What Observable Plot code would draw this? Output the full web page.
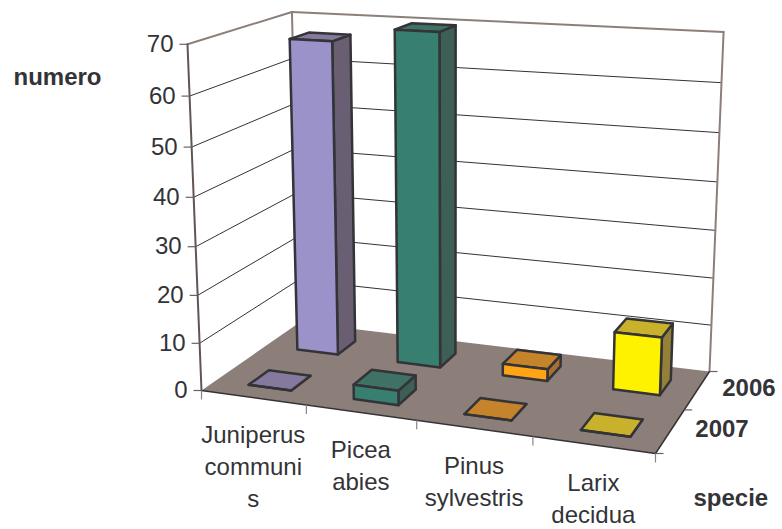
<!DOCTYPE html>
<html><head><meta charset="utf-8">
<style>html,body{margin:0;padding:0;background:#fff}svg{display:block}</style>
<script src="https://cdn.jsdelivr.net/npm/d3@7"></script>
<script src="https://cdn.jsdelivr.net/npm/@observablehq/plot@0.6"></script>
</head><body><div id="chart"></div>
<script>
const species = ["Juniperus\ncommuni\ns", "Picea\nabies", "Pinus\nsylvestris", "Larix\ndecidua"];
const years = ["2007", "2006"];           // front row first
const values2007 = [0, 3, 0, 0];
const values2006 = [67, 70, 2.5, 12];
const valueTicks = [0, 10, 20, 30, 40, 50, 60, 70];
const frontColors = ["#9a92c8", "#37806f", "#ffa515", "#fff200"];
const topColors = ["#85799e", "#3f7264", "#c5832b", "#c9b12b"];
const sideColors = ["#6a5f72", "#3d5f55", "#a86e32", "#95803a"];
const floorColor = "#8c7f7a", wallColor = "#8c7f7a", inkColor = "#333338";

// camera of the 3-D box: floor corners, vanishing point of the verticals, height strength
const floorCorners = [[201,390],[655,453],[709,371],[299,322]];  // (u,v)=(0,0),(1,0),(1,1),(0,1)
const verticalVanish = [451.5, 6576], heightGain = -0.053;
const maxValue = 70, nCat = species.length, nRow = years.length;

function homography(q) {
  const [[x0,y0],[x1,y1],[x2,y2],[x3,y3]] = q;
  const dx1=x1-x2, dx2=x3-x2, dx3=x0-x1+x2-x3, dy1=y1-y2, dy2=y3-y2, dy3=y0-y1+y2-y3;
  const den=dx1*dy2-dx2*dy1, g=(dx3*dy2-dx2*dy3)/den, h=(dx1*dy3-dx3*dy1)/den;
  return {a:x1-x0+g*x1, b:x3-x0+h*x3, d:y1-y0+g*y1, e:y3-y0+h*y3, g, h, x0, y0};
}
const H = homography(floorCorners);
function project(cat, row, value) {
  const u=cat/nCat, v=row/nRow, t=value/maxValue*heightGain;
  const w=H.g*u+H.h*v+1+t;
  return {x:(H.a*u+H.b*v+H.x0+t*verticalVanish[0])/w, y:(H.d*u+H.e*v+H.y0+t*verticalVanish[1])/w};
}
const poly = pts => [...pts, pts[0]].map(p=>project(...p));
const segMark = (a,b,o) => Plot.line([project(...a),project(...b)],{x:"x",y:"y",...o});
const face = (pts,o) => Plot.line(poly(pts),{x:"x",y:"y",...o});

const marks = [];
// walls + grid
const wallLine = {stroke:wallColor, strokeWidth:2};
valueTicks.forEach(v=>{
  if (v>0 && v<maxValue) {
    marks.push(segMark([0,0,v],[0,nRow,v],{stroke:inkColor,strokeWidth:1}));
    marks.push(segMark([0,nRow,v],[nCat,nRow,v],{stroke:inkColor,strokeWidth:1}));
  }
});
marks.push(segMark([0,0,maxValue],[0,nRow,maxValue],wallLine));
marks.push(segMark([0,nRow,maxValue],[nCat,nRow,maxValue],wallLine));
marks.push(segMark([0,nRow,0],[0,nRow,maxValue],wallLine));
marks.push(segMark([nCat,nRow,0],[nCat,nRow,maxValue],wallLine));
marks.push(segMark([0,0,0],[0,0,maxValue],{stroke:"#5f5653",strokeWidth:2}));
// floor
marks.push(face([[0,0,0],[nCat,0,0],[nCat,nRow,0],[0,nRow,0]],{fill:floorColor,stroke:"none"}));
marks.push(segMark([0,0,0],[nCat,0,0],{stroke:inkColor,strokeWidth:1.5}));
marks.push(segMark([nCat,0,0],[nCat,nRow,0],{stroke:inkColor,strokeWidth:1.5}));
// ticks
const hTick = (pts,dx1,dx2)=>marks.push(Plot.link(pts,{x1:d=>d.x+dx1,x2:d=>d.x+dx2,y1:"y",y2:"y",stroke:"#6b625f",strokeWidth:1.2}));
const vTick = (pts,len)=>marks.push(Plot.link(pts,{x1:"x",x2:"x",y1:"y",y2:d=>d.y+len,stroke:"#8c8482",strokeWidth:1.2}));
hTick(valueTicks.map(v=>project(0,0,v)),-8,0);
hTick(d3.range(0,nRow+1).map(r=>project(nCat,r,0)),0,8);
vTick(d3.range(0,nCat+1).map(c=>project(c,0,0)),9);

// bars, back row first
const inkBar = {stroke:inkColor,strokeWidth:2.5,strokeLinejoin:"round"};
const barU=[0.32,0.73], barV=[0.27,0.67];
function bar(c,r,val){
  const u0=c+barU[0],u1=c+barU[1],v0=r+barV[0],v1=r+barV[1];
  marks.push(face([[u1,v0,0],[u1,v1,0],[u1,v1,val],[u1,v0,val]],{fill:sideColors[c],...inkBar}));
  marks.push(face([[u0,v0,val],[u1,v0,val],[u1,v1,val],[u0,v1,val]],{fill:topColors[c],...inkBar}));
  marks.push(face([[u0,v0,0],[u1,v0,0],[u1,v0,val],[u0,v0,val]],{fill:frontColors[c],...inkBar}));
}
[values2006,values2007].forEach((vals,i)=>vals.forEach((val,c)=>bar(c,1-i,val)));

// text
const textBase = {fontFamily:"Liberation Sans, Arial, sans-serif",fontSize:24,fill:inkColor};
marks.push(Plot.text(valueTicks.map(v=>({v,...project(0,0,v)})),{x:"x",y:"y",text:d=>String(d.v),dx:-14,textAnchor:"end",...textBase}));
marks.push(Plot.text(species.map((s,i)=>({s,...project(i+.5,0,0)})),{x:"x",y:"y",text:"s",lineAnchor:"top",dy:23,lineHeight:1.333,textAnchor:"middle",...textBase}));
marks.push(Plot.text(years.map((s,i)=>({s,...project(nCat,i+.5,0)})),{x:"x",y:"y",text:"s",dx:25,dy:-2,textAnchor:"start",...textBase,fontWeight:"bold"}));
marks.push(Plot.text(["numero"],{frameAnchor:"top-left",dx:13,dy:67,lineAnchor:"top",...textBase,fontWeight:"bold"}));
marks.push(Plot.text(["specie"],{frameAnchor:"top-left",dx:693,dy:488,lineAnchor:"top",...textBase,fontWeight:"bold"}));

const chart = Plot.plot({width:782,height:529,margin:0,
  x:{domain:[0,782],range:[0,782],axis:null},
  y:{domain:[0,529],range:[0,529],axis:null},
  style:{background:"#fff"},marks});
document.getElementById("chart").append(chart);
</script></body></html>
